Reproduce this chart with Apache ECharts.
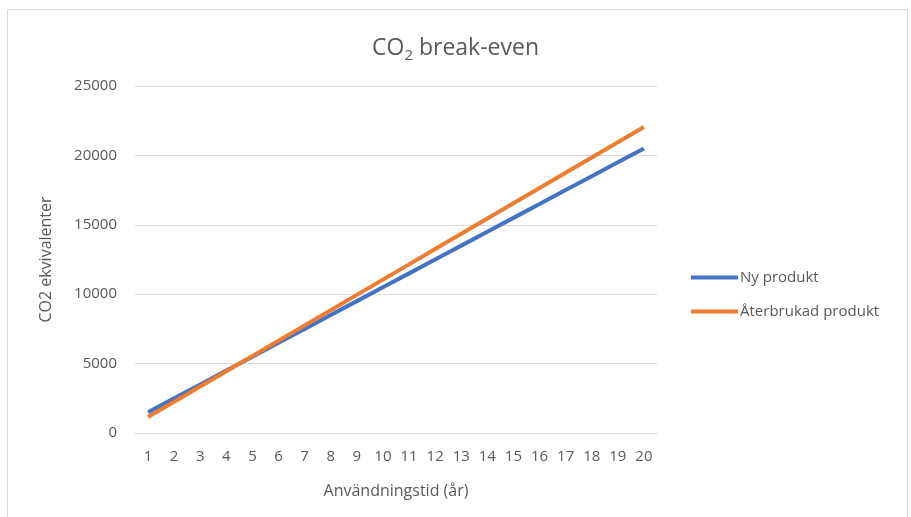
<!DOCTYPE html>
<html>
<head>
<meta charset="utf-8">
<script src="https://cdn.jsdelivr.net/npm/echarts@6/dist/echarts.min.js"></script>
<style>html,body{margin:0;padding:0;background:#fff}#c{width:911px;height:517px}</style>
</head>
<body>
<div id="c"></div>
<script>
const categories = ['1','2','3','4','5','6','7','8','9','10','11','12','13','14','15','16','17','18','19','20'];
const nyProdukt = [1500,2500,3500,4500,5500,6500,7500,8500,9500,10500,11500,12500,13500,14500,15500,16500,17500,18500,19500,20500];
const aterbrukad = [1150,2250,3350,4450,5550,6650,7750,8850,9950,11050,12150,13250,14350,15450,16550,17650,18750,19850,20950,22050];
const seriesNames = ['Ny produkt','Återbrukad produkt'];
const colors = ['#4472C4','#ED7D31'];
const font = '"Open Sans", sans-serif';
const textColor = '#595959';

const chart = echarts.init(document.getElementById('c'));
chart.setOption({
  animation: false,
  color: colors,
  graphic: [{
    type: 'rect', shape: {x: 7.5, y: 9.5, width: 900, height: 520},
    style: {fill: 'none', stroke: '#d9d9d9', lineWidth: 1}, silent: true
  }],
  title: {
    text: '{a|CO}{s|2}{a| break-even}',
    left: 'center', top: 29,
    textStyle: {
      rich: {
        a: {fontFamily: font, fontSize: 23, fontWeight: 'normal', color: textColor},
        s: {fontFamily: font, fontSize: 15, fontWeight: 'normal', color: textColor, verticalAlign: 'bottom', padding: [14,0,0,0]}
      }
    }
  },
  legend: {
    orient: 'vertical', left: 686, top: 265,
    itemWidth: 47, itemHeight: 4, itemGap: 19,
    icon: 'rect',
    textStyle: {fontFamily: font, fontSize: 15, color: textColor, padding: [0,0,0,-3]},
    data: seriesNames
  },
  grid: {left: 135, right: 254, top: 86, bottom: 84},
  xAxis: {
    type: 'category', data: categories, boundaryGap: true,
    name: 'Användningstid (år)', nameLocation: 'middle', nameGap: 50,
    nameTextStyle: {fontFamily: font, fontSize: 16, color: textColor},
    axisLine: {lineStyle: {color: '#d9d9d9'}},
    axisTick: {show: false},
    axisLabel: {fontFamily: font, fontSize: 15, color: textColor, margin: 16, interval: 0}
  },
  yAxis: {
    type: 'value', min: 0, max: 25000, interval: 5000,
    name: 'CO2 ekvivalenter', nameLocation: 'middle', nameGap: 81, nameRotate: 90,
    nameTextStyle: {fontFamily: font, fontSize: 16, color: textColor},
    axisLine: {show: false}, axisTick: {show: false},
    axisLabel: {fontFamily: font, fontSize: 15, color: textColor, margin: 18, formatter: v => String(v)},
    splitLine: {lineStyle: {color: '#d9d9d9', width: 1}}
  },
  series: [
    {name: seriesNames[0], type: 'line', data: nyProdukt, showSymbol: false, symbol: 'none', lineStyle: {width: 4, color: colors[0]}},
    {name: seriesNames[1], type: 'line', data: aterbrukad, showSymbol: false, symbol: 'none', lineStyle: {width: 4, color: colors[1]}}
  ]
});
</script>
</body>
</html>
